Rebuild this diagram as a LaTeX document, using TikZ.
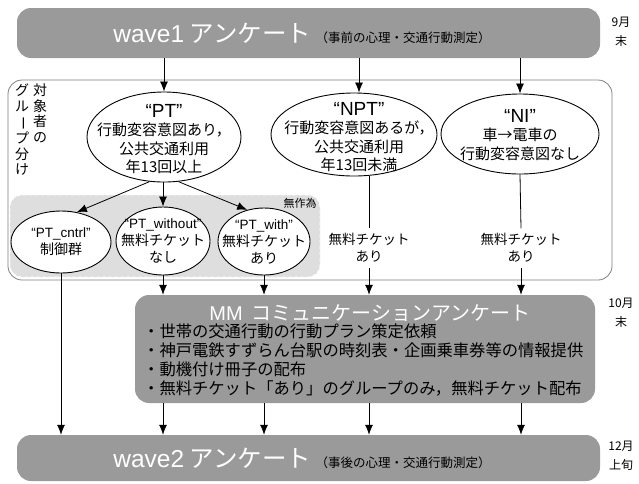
\documentclass[tikz,border=0pt]{standalone}
\usepackage{fontspec}
\setmainfont{Noto Sans CJK JP}
\newfontfamily\lat{Liberation Sans}
\usetikzlibrary{arrows.meta,shapes.geometric}
\definecolor{boxgray}{HTML}{9A9A9A}
\definecolor{areagray}{HTML}{DEDEDE}
\definecolor{framegray}{HTML}{808080}
\newcommand{\fs}[2]{\fontsize{#1}{#2}\selectfont}
\begin{document}
\begin{tikzpicture}[x=1pt,y=-1pt,
 gbox/.style={rectangle, rounded corners=14pt, fill=boxgray, inner sep=0pt},
 ell/.style={ellipse, draw=black, line width=0.9pt, fill=white, inner sep=0pt},
 etext/.style={align=center, inner sep=0pt, font=\fs{15}{18.5}},
 ctext/.style={align=center, inner sep=0pt, font=\fs{14}{17}},
 lbl/.style={align=center, inner sep=5pt, font=\fs{13.5}{17}},
 datel/.style={align=center, inner sep=0pt, font=\fs{12}{19}},
 arr/.style={line width=0.8pt, -{Latex[length=10pt,width=8pt]}},
 ln/.style={line width=0.8pt}]
\useasboundingbox (0,0) rectangle (639,483);

% wave1
\node[gbox, minimum width=583pt, minimum height=50pt] (w1) at (308.5,33) {};
\node[inner sep=0pt] (w1t) at (302,33) {{\color{white}\fs{24.5}{26}{\lat wave1} アンケート}\ \ {\fs{12.5}{15}（事前の心理・交通行動測定）}};
\node[datel] (d1) at (621,32) {9月\\末};

% container
\node[rectangle, rounded corners=14pt, draw=framegray, line width=0.8pt, fill=white,
      minimum width=604pt, minimum height=200pt, inner sep=0pt] (cont) at (310,180) {};

% random assignment area
\node[rectangle, rounded corners=12pt, fill=areagray, draw=white, dashed, line width=0.6pt,
      minimum width=310pt, minimum height=82pt, inner sep=0pt] (rand) at (165,236) {};
\node[inner sep=0pt, font=\fs{11}{12}] (randl) at (300,203) {無作為};

% vertical labels
\node[align=center, inner sep=0pt, font=\fs{14}{15.5}, anchor=north] (v1) at (40,84) {対\\象\\者\\の};
\node[align=center, inner sep=0pt, font=\fs{14}{15.5}, anchor=north] (v2) at (22,84) {グ\\ル\\\rotatebox[origin=c]{-90}{ー}\\プ\\分\\け};

% main ellipses
\node[ell, minimum width=154pt, minimum height=90pt] (pt) at (164,137) {};
\node[etext] (ptt) at (164,139) {{\lat\fs{19}{20}“PT”}\\行動変容意図あり，\\公共交通利用\\年13回以上};

\node[ell, minimum width=166pt, minimum height=83pt] (npt) at (354,134.5) {};
\node[etext] (nptt) at (359,137) {{\lat\fs{19}{20}“NPT”}\\行動変容意図あるが，\\公共交通利用\\年13回未満};

\node[ell, minimum width=158pt, minimum height=80pt] (ni) at (520,134) {};
\node[etext] (nit) at (520,135) {{\lat\fs{19}{20}“NI”}\\車→電車の\\行動変容意図なし};

% child ellipses
\node[ell, minimum width=100pt, minimum height=62pt] (cn) at (61,242) {};
\node[ctext] (cnt) at (61,242) {{\lat\fs{13.5}{16}“PT\_cntrl”}\\制御群};
\node[ell, minimum width=94pt, minimum height=68pt] (wo) at (163,241) {};
\node[ctext] (wot) at (163,241) {{\lat\fs{13.5}{16}“PT\_without”}\\無料チケット\\なし};
\node[ell, minimum width=92pt, minimum height=67pt] (wi) at (264,241.5) {};
\node[ctext] (wit) at (264,241.5) {{\lat\fs{13.5}{16}“PT\_with”}\\無料チケット\\あり};

% ticket labels
\node[lbl] (lb1) at (369,248) {無料チケット\\あり};
\node[lbl] (lb2) at (521,248) {無料チケット\\あり};

% MM box
\node[gbox, minimum width=460pt, minimum height=108pt] (mm) at (365,349) {};
\node[inner sep=0pt, font=\fs{20}{22}, text=white] (mmt) at (370,313) {{\lat MM}\ \ コミュニケーションアンケート};
\node[anchor=north west, align=left, inner sep=0pt, font=\fs{16.3}{19}] (mmb) at (143,324)
 {・世帯の交通行動の行動プラン策定依頼\\・神戸電鉄すずらん台駅の時刻表・企画乗車券等の情報提供\\・動機付け冊子の配布\\・無料チケット「あり」のグループのみ，無料チケット配布};
\node[datel] (d2) at (621,313) {10月\\末};

% wave2
\node[gbox, minimum width=583pt, minimum height=46pt] (w2) at (308.5,458) {};
\node[inner sep=0pt] (w2t) at (302,458) {{\color{white}\fs{24.5}{26}{\lat wave2}\ アンケート}\ \ {\fs{12.5}{15}（事後の心理・交通行動測定）}};
\node[datel] (d3) at (621,456) {12月\\上旬};

% connectors
\draw[arr] (w1.south -| pt) -- (pt.north);
\draw[arr] (w1.south -| nptt) -- (nptt |- npt.north);
\draw[arr] (w1.south -| ni) -- (ni.north);

\draw[arr] (pt.252) -- (cn.62);
\draw[arr] (wo.north |- pt.south) -- (wo.north);
\draw[arr] (pt.288) -- (wi.118);

\draw[arr] (cn.south) -- (cn.south |- w2.north);
\draw[arr] (wo.south) -- (wo.south |- mm.north);
\draw[arr] (wi.south) -- (wi.south |- mm.north);

\draw[ln] (lb1 |- npt.south) -- (lb1.north);
\draw[arr] (lb1.south) -- (lb1.south |- mm.north);
\draw[ln] (ni.south) -- (lb2.north);
\draw[arr] (lb2.south) -- (lb2.south |- mm.north);

\draw[arr] (mm.south -| wo) -- (w2.north -| wo);
\draw[arr] (mm.south -| wi) -- (w2.north -| wi);
\draw[arr] (mm.south -| lb1) -- (w2.north -| lb1);
\draw[arr] (mm.south -| lb2) -- (w2.north -| lb2);
\end{tikzpicture}
\end{document}
